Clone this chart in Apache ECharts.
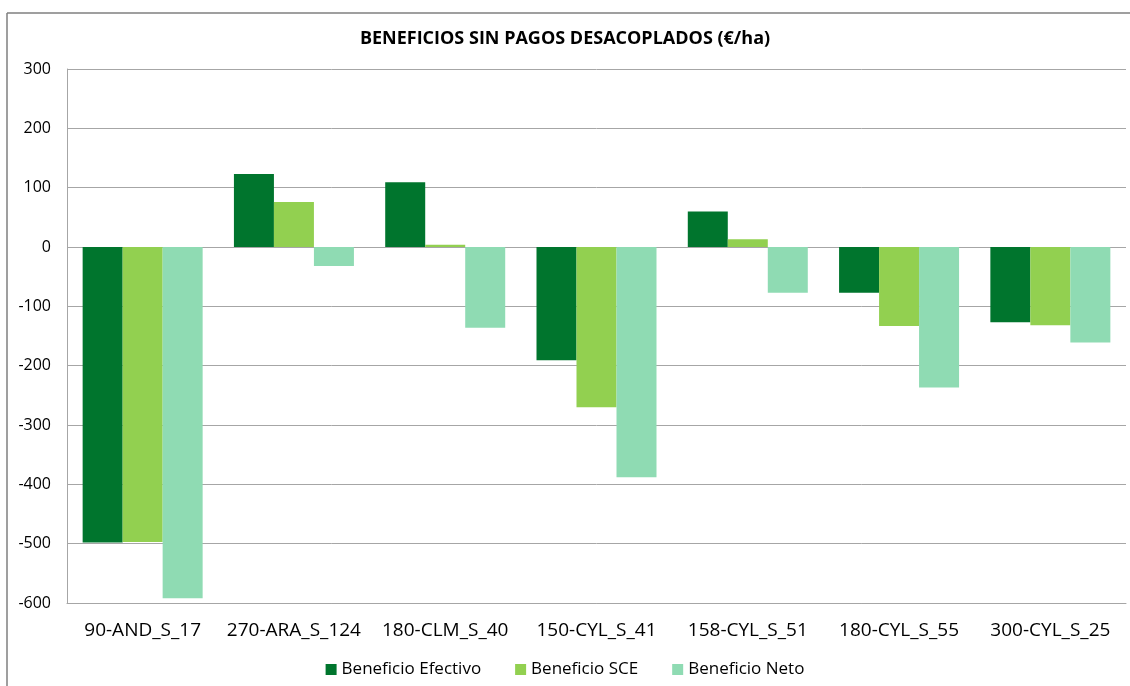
<!DOCTYPE html>
<html>
<head>
    <meta charset="UTF-8">
    <title>Beneficios sin pagos desacoplados</title>
    <script src="https://cdn.jsdelivr.net/npm/echarts@6/dist/echarts.min.js"></script>
    <style>
        html, body { margin: 0; padding: 0; background: #fff; overflow: hidden; }
    </style>
</head>
<body>
    <div id="main" style="width: 1130px;height:686px;"></div>
    <script type="text/javascript">
        var categories = ['90-AND_S_17', '270-ARA_S_124', '180-CLM_S_40', '150-CYL_S_41', '158-CYL_S_51', '180-CYL_S_55', '300-CYL_S_25'];
        var efectivo = [-498, 123, 109, -191, 60, -77, -127];
        var sce = [-497, 76, 4, -270, 13, -133, -132];
        var neto = [-592, -32, -136, -388, -77, -237, -161];

        var myChart = echarts.init(document.getElementById('main'));
        var font = 'Open Sans';
        var frame = { stroke: '#7f7f7f', lineWidth: 1.5 };

        var option = {
            animation: false,
            title: {
                text: 'BENEFICIOS SIN PAGOS DESACOPLADOS (€/ha)',
                left: 'center',
                top: 25,
                textStyle: { fontFamily: font, fontSize: 18, fontWeight: 'bold', color: '#000' }
            },
            // outer chart frame (only top and left edges are inside the picture)
            graphic: [
                { type: 'line', silent: true, shape: { x1: 7, y1: 13, x2: 1130, y2: 13 }, style: frame },
                { type: 'line', silent: true, shape: { x1: 7, y1: 13, x2: 7, y2: 686 }, style: frame }
            ],
            legend: {
                bottom: 3,
                left: 'center',
                itemWidth: 11,
                itemHeight: 11,
                itemGap: 34,
                icon: 'rect',
                textStyle: { fontFamily: font, fontSize: 17, color: '#000' }
            },
            grid: { left: 67, right: 4, top: 69, bottom: 83 },
            xAxis: {
                type: 'category',
                data: categories,
                position: 'bottom',
                axisLine: { onZero: false, lineStyle: { color: '#a6a6a6' } },
                axisTick: { show: false },
                axisLabel: { fontFamily: font, fontSize: 19, color: '#000', margin: 18, interval: 0 }
            },
            yAxis: {
                type: 'value',
                min: -600,
                max: 300,
                interval: 100,
                axisLine: { show: true, lineStyle: { color: '#a6a6a6' } },
                axisTick: { show: false },
                splitLine: { lineStyle: { color: '#a6a6a6', width: 1 } },
                axisLabel: { fontFamily: font, fontSize: 16, color: '#000', margin: 16 }
            },
            series: [
                { name: 'Beneficio Efectivo', type: 'bar', data: efectivo, barWidth: 40, barGap: '0%', itemStyle: { color: '#00752d' } },
                { name: 'Beneficio SCE', type: 'bar', data: sce, barWidth: 40, barGap: '0%', itemStyle: { color: '#92d050' } },
                { name: 'Beneficio Neto', type: 'bar', data: neto, barWidth: 40, barGap: '0%', itemStyle: { color: '#8fdbb3' } }
            ]
        };

        myChart.setOption(option);
    </script>
</body>
</html>
